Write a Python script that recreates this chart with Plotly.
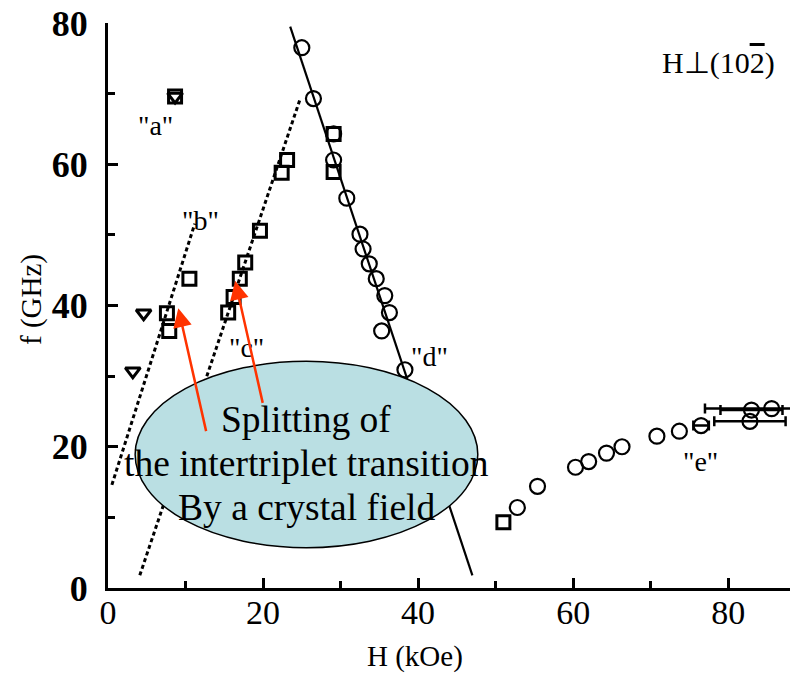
import plotly.graph_objects as go

# ---- data ----
H_circ = [25.0, 26.5, 29.1, 29.1, 30.8, 32.5, 32.9, 33.7, 34.6, 35.7, 36.3, 35.3, 38.3,
          52.8, 55.4, 60.3, 62.0, 64.3, 66.3, 70.8, 73.7]
f_circ = [76.5, 69.3, 64.3, 60.6, 55.2, 50.1, 48.0, 45.9, 43.8, 41.4, 39.0, 36.4, 30.9,
          11.4, 14.4, 17.1, 17.9, 19.1, 20.0, 21.5, 22.2]

H_err = [76.5, 83.0, 85.6, 82.8]
f_err = [23.0, 25.2, 25.4, 23.6]
dH_err = [1.0, 4.0, 8.6, 4.6]

H_sq = [8.65, 10.5, 7.6, 7.9, 15.5, 16.2, 17.0, 17.7, 19.6, 22.4, 23.1, 29.1, 29.1, 51.0]
f_sq = [69.6, 43.8, 38.9, 36.4, 39.0, 41.2, 43.8, 46.1, 50.6, 58.8, 60.6, 64.3, 58.9, 9.3]

H_tri = [8.65, 4.6, 3.2]
f_tri = [69.6, 38.9, 30.7]

H_line_b = [0.5, 11.2]
f_line_b = [14.6, 51.6]
H_line_c = [4.1, 24.8]
f_line_c = [1.8, 69.3]
H_line_d = [23.5, 47.0]
f_line_d = [79.5, 1.8]

branch_labels = ['"a"', '"b"', '"c"', '"d"', '"e"']
branch_H = [6.1, 11.9, 17.8, 41.5, 76.4]
branch_f = [65.5, 52.0, 34.0, 32.8, 17.9]

x_ticks = [0, 20, 40, 60, 80]
y_ticks = [0, 20, 40, 60, 80]

SERIF = "Liberation Serif"
fig = go.Figure()

fig.add_trace(go.Scatter(x=H_line_b, y=f_line_b, mode="lines",
                         line=dict(color="black", width=3, dash="4px,3px")))
fig.add_trace(go.Scatter(x=H_line_c, y=f_line_c, mode="lines",
                         line=dict(color="black", width=3, dash="4px,3px")))
fig.add_trace(go.Scatter(x=H_line_d, y=f_line_d, mode="lines",
                         line=dict(color="black", width=2.2)))

fig.add_trace(go.Scatter(x=H_sq, y=f_sq, mode="markers",
                         marker=dict(symbol="square-open", size=13, color="black",
                                     line=dict(width=3, color="black"))))
fig.add_trace(go.Scatter(x=H_tri, y=f_tri, mode="markers",
                         marker=dict(symbol="triangle-down-open", size=13, color="black",
                                     line=dict(width=3, color="black"))))
fig.add_trace(go.Scatter(x=H_circ, y=f_circ, mode="markers",
                         marker=dict(symbol="circle-open", size=15, color="black",
                                     line=dict(width=2.2, color="black"))))
fig.add_trace(go.Scatter(x=H_err, y=f_err, mode="markers",
                         error_x=dict(type="data", array=dH_err, symmetric=True,
                                      color="black", thickness=2.5, width=5),
                         marker=dict(symbol="circle-open", size=15, color="black",
                                     line=dict(width=2.2, color="black"))))

# ellipse annotation box
fig.add_shape(type="circle", xref="x", yref="y", x0=3.5, x1=47.7, y0=5.7, y1=32.1,
              fillcolor="#badfe3", line=dict(color="black", width=1.5), layer="above")

for t, hx, fy in zip(branch_labels, branch_H, branch_f):
    fig.add_annotation(x=hx, y=fy, text=t, showarrow=False,
                       font=dict(family=SERIF, size=28, color="black"))

fig.add_annotation(x=78.7, y=74.3, text="H\u22a5(10<span style='text-decoration:overline'>2</span>)",
                   showarrow=False, font=dict(family=SERIF, size=30, color="black"))

ell_lines = ["Splitting of", "the intertriplet transition", "By a crystal field"]
ell_f = [23.9, 17.6, 11.4]
for t, fy in zip(ell_lines, ell_f):
    fig.add_annotation(x=25.6, y=fy, text=t, showarrow=False,
                       font=dict(family=SERIF, size=37.5, color="black"))

# red arrows
arrow_tip_H = [9.07, 16.4]
arrow_tip_f = [39.6, 43.5]
arrow_tail_H = [12.7, 20.0]
arrow_tail_f = [22.0, 26.0]
for xh, yf, ah, af in zip(arrow_tip_H, arrow_tip_f, arrow_tail_H, arrow_tail_f):
    fig.add_annotation(x=xh, y=yf, ax=ah, ay=af, xref="x", yref="y", axref="x", ayref="y",
                       text="", showarrow=True, arrowhead=2, arrowsize=1.5, arrowwidth=2.5,
                       arrowcolor="#ff3300", standoff=0, startstandoff=0)

# axis titles
fig.add_annotation(x=39.6, y=-0.122, xref="x", yref="paper", text="H (kOe)", showarrow=False,
                   xanchor="center", yanchor="middle",
                   font=dict(family=SERIF, size=29, color="black"))
fig.add_annotation(x=-0.110, y=0.51, xref="paper", yref="paper", text="f (GHz)", showarrow=False,
                   xanchor="center", yanchor="middle",
                   textangle=-90, font=dict(family=SERIF, size=29, color="black"))

# page body has an 8px default margin, so the figure is offset by 8px
fig.update_layout(
    width=790, height=668,
    margin=dict(l=100, r=0, t=15, b=88),
    plot_bgcolor="white", paper_bgcolor="white",
    showlegend=False,
)
fig.update_xaxes(range=[0, 89.0], tickvals=x_ticks, ticks="inside", ticklen=10, tickwidth=2.5,
                 showline=True, linecolor="black", linewidth=3, showgrid=False, zeroline=False,
                 automargin=False, ticklabelstandoff=-8, ticklabeloverflow="allow",
                 tickfont=dict(family=SERIF, size=34, color="black"),
                 minor=dict(dtick=10, ticks="inside", ticklen=7, tickwidth=2.5, tickcolor="black"),
                 tickcolor="black")
fig.update_yaxes(range=[0, 80], tickvals=y_ticks, ticks="inside", ticklen=10, tickwidth=2.5,
                 showline=True, linecolor="black", linewidth=3, showgrid=False, zeroline=False,
                 automargin=False, ticklabelstandoff=10, ticklabeloverflow="allow",
                 tickfont=dict(family=SERIF, size=36, color="black", weight="bold"),
                 minor=dict(dtick=10, ticks="inside", ticklen=7, tickwidth=2.5, tickcolor="black"),
                 tickcolor="black")

fig.write_html("out.html")
